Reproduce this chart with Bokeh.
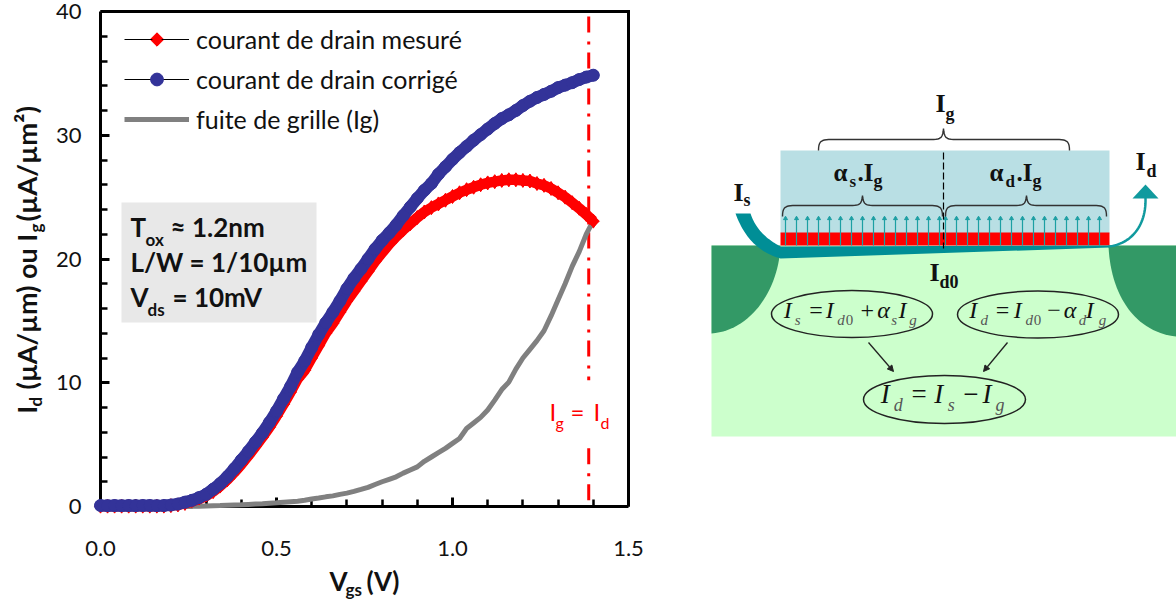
from math import pi
import numpy as np
from bokeh.plotting import figure
from bokeh.layouts import row
from bokeh.models import (Range1d, FixedTicker, Label, BoxAnnotation, Legend, LegendItem,
                          Arrow, NormalHead, PrintfTickFormatter)
from bokeh.embed import file_html
from bokeh.resources import INLINE

vgs = [0.00,0.02,0.04,0.06,0.08,0.10,0.12,0.14,0.16,0.18,0.20,0.22,0.24,0.26,0.28,0.30,0.32,0.34,0.36,0.38,
       0.40,0.42,0.44,0.46,0.48,0.50,0.52,0.54,0.56,0.58,0.60,0.62,0.64,0.66,0.68,0.70,0.72,0.74,0.76,0.78,
       0.80,0.82,0.84,0.86,0.88,0.90,0.92,0.94,0.96,0.98,1.00,1.02,1.04,1.06,1.08,1.10,1.12,1.14,1.16,1.18,
       1.20,1.22,1.24,1.26,1.28,1.30,1.32,1.34,1.36,1.38,1.40]
id_corrige = [.08,.07,.08,.07,.08,.07,.08,.08,.07,.08,.12,.2,.35,.5,.72,.98,1.4,1.85,2.4,3.05,
              3.75,4.45,5.2,5.95,6.8,7.7,8.7,9.7,10.85,11.75,12.85,13.9,14.85,15.7,16.6,17.6,18.45,19.2,20.0,20.8,
              21.5,22.1,22.75,23.5,24.2,24.9,25.55,26.1,26.85,27.45,28.05,28.6,29.1,29.6,30.05,30.5,30.95,31.35,31.65,32.0,
              32.4,32.75,33.05,33.3,33.55,33.85,34.05,34.25,34.5,34.7,34.85]
id_mesure = [.03,.03,.03,.03,.03,.03,.03,.03,.03,.03,.07,.13,.25,.4,.6,.85,1.2,1.65,2.15,2.75,
             3.4,4.1,4.85,5.6,6.4,7.3,8.25,9.25,10.3,11.0,12.0,13.0,14.0,14.8,15.7,16.6,17.4,18.2,19.0,19.8,
             20.5,21.2,21.8,22.35,22.85,23.35,23.8,24.15,24.45,24.75,25.05,25.35,25.6,25.8,26.0,26.15,26.25,26.35,26.4,26.4,
             26.35,26.3,26.1,25.95,25.7,25.35,25.0,24.55,24.1,23.6,23.06]
i_g = [0,0,0,0,0,0,0,0,0,0,0,0,0,.01,.03,.05,.07,.08,.1,.12,
       .14,.17,.2,.23,.27,.3,.35,.39,.43,.5,.6,.68,.78,.86,.98,1.08,1.22,1.38,1.55,1.78,
       2.0,2.2,2.4,2.7,2.95,3.2,3.65,4.0,4.35,4.7,5.1,5.5,6.3,6.75,7.2,7.8,8.6,9.45,10.05,11.1,
       12.0,12.7,13.4,14.2,15.4,16.7,18.0,19.4,20.6,22.0,23.1]
x_ticks = [0, 0.5, 1.0, 1.5]
x_minor = [0.1,0.2,0.3,0.4,0.6,0.7,0.8,0.9,1.1,1.2,1.3,1.4]
y_ticks = [0, 10, 20, 30, 40]
y_minor = [2,4,6,8,12,14,16,18,22,24,26,28,32,34,36,38]
v_limit = 1.387
names = ["courant de drain mesuré", "courant de drain corrigé", "fuite de grille (Ig)"]

RED, BLUE, GRAY = "#FF0000", "#333399", "#808080"
FONT = "Lato"
SERIF = "Liberation Serif"
BASE = 0.38   # Label draws this fraction of its size below the requested baseline

# ---------- left: chart; the frame covers the whole canvas so marks may overrun the axes ----------
SX, SY = 352.0, 12.375
X = lambda px: (px - 100) / SX
Y = lambda py: (506 - py) / SY
p = figure(width=688, height=599, output_backend="svg", toolbar_location=None,
           x_range=Range1d(X(0), X(688)), y_range=Range1d(Y(599), Y(0)),
           min_border_left=0, min_border_right=0, min_border_top=0, min_border_bottom=0)
p.outline_line_color = None
p.grid.visible = False
for ax, t, m, lim, so in ((p.xaxis[0], x_ticks, x_minor, (0, 1.5), 34), (p.yaxis[0], y_ticks, y_minor, (0, 40), 19)):
    ax.fixed_location = 0
    ax.bounds = lim
    ax.ticker = FixedTicker(ticks=t, minor_ticks=m)
    ax.axis_line_width = 3
    ax.axis_line_color = "black"
    ax.major_tick_in, ax.major_tick_out = 9, 0
    ax.minor_tick_in, ax.minor_tick_out = 7, 0
    ax.major_tick_line_width = 3
    ax.minor_tick_line_width = 2.5
    ax.major_label_text_font = FONT
    ax.major_label_text_font_size = "22px"
    ax.major_label_text_color = "#111111"
    ax.major_label_standoff = so
p.xaxis[0].formatter = PrintfTickFormatter(format="%.1f")
p.line([0, 1.5, 1.5], [40, 40, 0], line_color="black", line_width=3, line_join="miter", level="guide")

p.add_layout(BoxAnnotation(left=X(121), right=X(316), top=Y(202), bottom=Y(322),
                           fill_color="#E8E8E8", fill_alpha=1, line_color=None, level="underlay"))
p.line([v_limit]*5, [39.6, 10.2, np.nan, 4.7, 0], line_color=RED, line_width=3, line_dash="16 9 3 8")

g_l = p.line(vgs, i_g, line_color=GRAY, line_width=5, level="annotation")
p.line(vgs, id_mesure, line_color=RED, line_width=10.5, level="annotation")
r_l = p.line(vgs, id_mesure, line_color="black", line_width=1, level="guide")
r_k = p.scatter(vgs, id_mesure, marker="diamond", size=14, color=RED, level="guide")
p.scatter(vgs, id_mesure, marker="square", angle=pi/4, size=8.5, color=RED, level="annotation")
p.line(vgs, id_corrige, line_color=BLUE, line_width=12, level="annotation", line_cap="round")
b_l = p.line(vgs, id_corrige, line_color="black", line_width=1, level="guide")
b_s = p.scatter(vgs, id_corrige, marker="circle", size=12, color=BLUE, level="annotation")

legend = Legend(items=[LegendItem(label=names[0], renderers=[r_l, r_k]),
                       LegendItem(label=names[1], renderers=[b_l, b_s]),
                       LegendItem(label=names[2], renderers=[g_l])],
                location=(124, 464), padding=0, margin=0, spacing=8, glyph_width=65, glyph_height=32,
                label_standoff=7, border_line_color=None, background_fill_alpha=0,
                label_text_font=FONT, label_text_font_size="25px", label_text_color="#111111")
p.add_layout(legend, "center")
# legend key of the measured series: a square-sided diamond as in the reference
p.scatter([X(156.5)], [Y(39)], marker="square", angle=pi/4, size=9.5, color=RED, level="annotation")

def L(px, py, text, size, style="normal", color="#111111", angle=0, font=FONT):
    if angle:
        px -= BASE * size
    else:
        py -= BASE * size
    p.add_layout(Label(x=X(px), y=Y(py), text=text, text_font=font, text_font_size=f"{size}px",
                       text_font_style=style, text_color=color, angle=angle, angle_units="rad",
                       text_baseline="alphabetic", text_align="left"))

# y axis title, rotated pieces
for py, bx, s, txt in ((413, 36, 26, "I"), (406, 41, 17, "d"), (389, 36, 27, "(µA/µm) ou I"), (232, 41, 17, "g"), (221, 36, 27.5, "(µA/µm²)")):
    L(bx, py, txt, s, "bold", angle=pi/2)
# x axis title
L(329, 590, "V", 26, "bold"); L(345, 595, "gs", 17, "bold"); L(366, 590, "(V)", 26, "bold")
# info box
L(130, 236, "T", 26, "bold"); L(145, 245, "ox", 17, "bold"); L(170, 236, "≈ 1.2nm", 26, "bold")
L(130, 271, "L/W = 1/10µm", 26, "bold")
L(130, 306, "V", 26, "bold"); L(147, 315, "ds", 17, "bold"); L(172, 306, "= 10mV", 26, "bold")
# Ig = Id
L(549, 420, "I", 24, color=RED); L(555, 428, "g", 16, color=RED); L(570, 420, "=", 24, color=RED)
L(593, 420, "I", 24, color=RED); L(600, 428, "d", 16, color=RED)

# ---------- right: schematic, drawn in the picture's own pixel coordinates ----------
q = figure(width=488, height=599, output_backend="svg", toolbar_location=None,
           x_range=Range1d(688, 1176), y_range=Range1d(599, 0),
           min_border_left=0, min_border_right=0, min_border_top=0, min_border_bottom=0)
q.axis.visible = False
q.grid.visible = False
q.outline_line_color = None

def cubic(p0, p1, p2, p3, n=30):
    t = np.linspace(0, 1, n)[:, None]
    a = np.array([p0, p1, p2, p3], float)
    return (1-t)**3*a[0] + 3*(1-t)**2*t*a[1] + 3*(1-t)*t**2*a[2] + t**3*a[3]

q.quad(left=[711], right=[1176], top=[245], bottom=[436], fill_color="#CCFFCC", line_color=None)
s = cubic((780, 245), (778, 290), (750, 330), (711, 333))
q.patch([711] + list(s[:, 0]), [245] + list(s[:, 1]), fill_color="#339966", line_color=None)
s = cubic((1108, 245), (1110, 295), (1135, 332), (1176, 336))
q.patch(list(s[:, 0]) + [1176], list(s[:, 1]) + [245], fill_color="#339966", line_color=None)
q.quad(left=[780], right=[1109], top=[150], bottom=[233], fill_color="#B9DFE4", line_color=None)
q.quad(left=[780], right=[1109], top=[232], bottom=[245], fill_color="#FF0000", line_color=None)

TEAL = "#008E96"
outer = cubic((735, 213), (745, 240), (760, 252), (780, 258))
inner = cubic((780, 246), (765, 238), (755, 228), (750, 213))
cx = list(outer[:, 0]) + [1109, 1109] + list(inner[:, 0])
cy = list(outer[:, 1]) + [247, 245] + list(inner[:, 1])
q.patch(cx, cy, fill_color=TEAL, line_color=None)
s = cubic((1108, 246), (1128, 244), (1146, 228), (1145, 197))
q.line(s[:, 0], s[:, 1], line_color="#109A9E", line_width=2.5)
q.patch([1132, 1145, 1158], [198, 184, 198], fill_color="#109A9E", line_color=None)

xs = [785 + 11*i for i in range(15)] + [945 + 11*i for i in range(15)]
q.segment(xs, [245]*30, xs, [218]*30, line_color="#1C9FA3", line_width=1.2)
q.scatter(xs, [218]*30, marker="triangle", size=4, color="#1C9FA3")
q.line([943, 943], [152, 248], line_color="black", line_width=1.2, line_dash="7 3")

def brace(x0, x1, xp, y0, ymid, ytop):
    sgn = 8
    a = cubic((x0, y0), (x0, ymid), (x0+sgn/2, ymid), (x0+sgn*2, ymid), 12)
    b = cubic((xp-sgn*2, ymid), (xp-3, ymid), (xp-1, ymid), (xp, ytop), 12)
    c = cubic((xp, ytop), (xp+1, ymid), (xp+3, ymid), (xp+sgn*2, ymid), 12)
    d = cubic((x1-sgn*2, ymid), (x1-sgn/2, ymid), (x1, ymid), (x1, y0), 12)
    pts = np.vstack([a, b, c, d])
    q.line(pts[:, 0], pts[:, 1], line_color="#333333", line_width=1.4)
brace(818, 1069, 943, 150, 139, 128)
brace(782, 942, 862, 216, 205, 195)
brace(945, 1106, 1026, 216, 205, 195)

def T(px, py, text, size, style="bold", color="#111111"):
    q.add_layout(Label(x=px, y=py - BASE*size, text=text, text_font=SERIF, text_font_size=f"{size}px",
                       text_font_style=style, text_color=color,
                       text_baseline="alphabetic", text_align="left"))
# bold current names
T(935, 113, "I", 26); T(945, 120, "g", 18)
T(833, 181, "α", 25); T(849, 187, "s", 17); T(857, 181, ".I", 25); T(873, 187, "g", 18)
T(989, 181, "α", 25); T(1005, 187, "d", 17); T(1016, 181, ".I", 25); T(1032, 187, "g", 18)
T(733, 202, "I", 26); T(743, 206, "s", 18)
T(1135, 171, "I", 26); T(1146, 177, "d", 18)
T(929, 282, "I", 26); T(939, 288, "d0", 18)

for cxv, cyv, w, h in ((851.5, 313.5, 161, 47), (1037.5, 314, 161, 47), (944, 399, 162, 48)):
    q.ellipse([cxv], [cyv], width=w, height=h, fill_alpha=0, line_color="#222222", line_width=1.5)

SUB = "#555555"
def eq(items, base, sub_base, main, small):
    for zx, kind, txt in items:
        px = 700 + zx/3
        if kind == "m":
            T(px, base, txt, main, "italic")
        elif kind == "n":
            T(px, base, txt, main, "normal")
        elif kind == "s":
            T(px, sub_base, txt, small, "italic", SUB)
        else:
            T(px, sub_base, txt, small, "normal", SUB)
eq([(250,"m","I"),(283,"s","s"),(326,"n","="),(376,"m","I"),(410,"s","d"),(436,"o","0"),(480,"n","+"),
    (530,"m","α"),(572,"s","s"),(594,"m","I"),(626,"s","g")], 319, 325, 24, 15)
eq([(806,"m","I"),(840,"s","d"),(886,"n","="),(940,"m","I"),(975,"s","d"),(1000,"o","0"),(1040,"n","−"),
    (1090,"m","α"),(1135,"s","d"),(1156,"m","I"),(1195,"s","g")], 319, 325, 24, 15)
eq([(541,"m","I"),(580,"s","d"),(633,"n","="),(701,"m","I"),(742,"s","s"),(788,"n","−"),
    (846,"m","I"),(885,"s","g")], 404, 411, 27, 18)

for x0, y0, x1, y1 in ((868, 342, 893, 371), (1007, 342, 983, 371)):
    q.add_layout(Arrow(end=NormalHead(size=6, fill_color="#222222", line_color="#222222"),
                       x_start=x0, y_start=y0, x_end=x1, y_end=y1, line_color="#222222", line_width=1.3))

layout = row(p, q, spacing=0)
open("out.html", "w").write(file_html(layout, INLINE))
